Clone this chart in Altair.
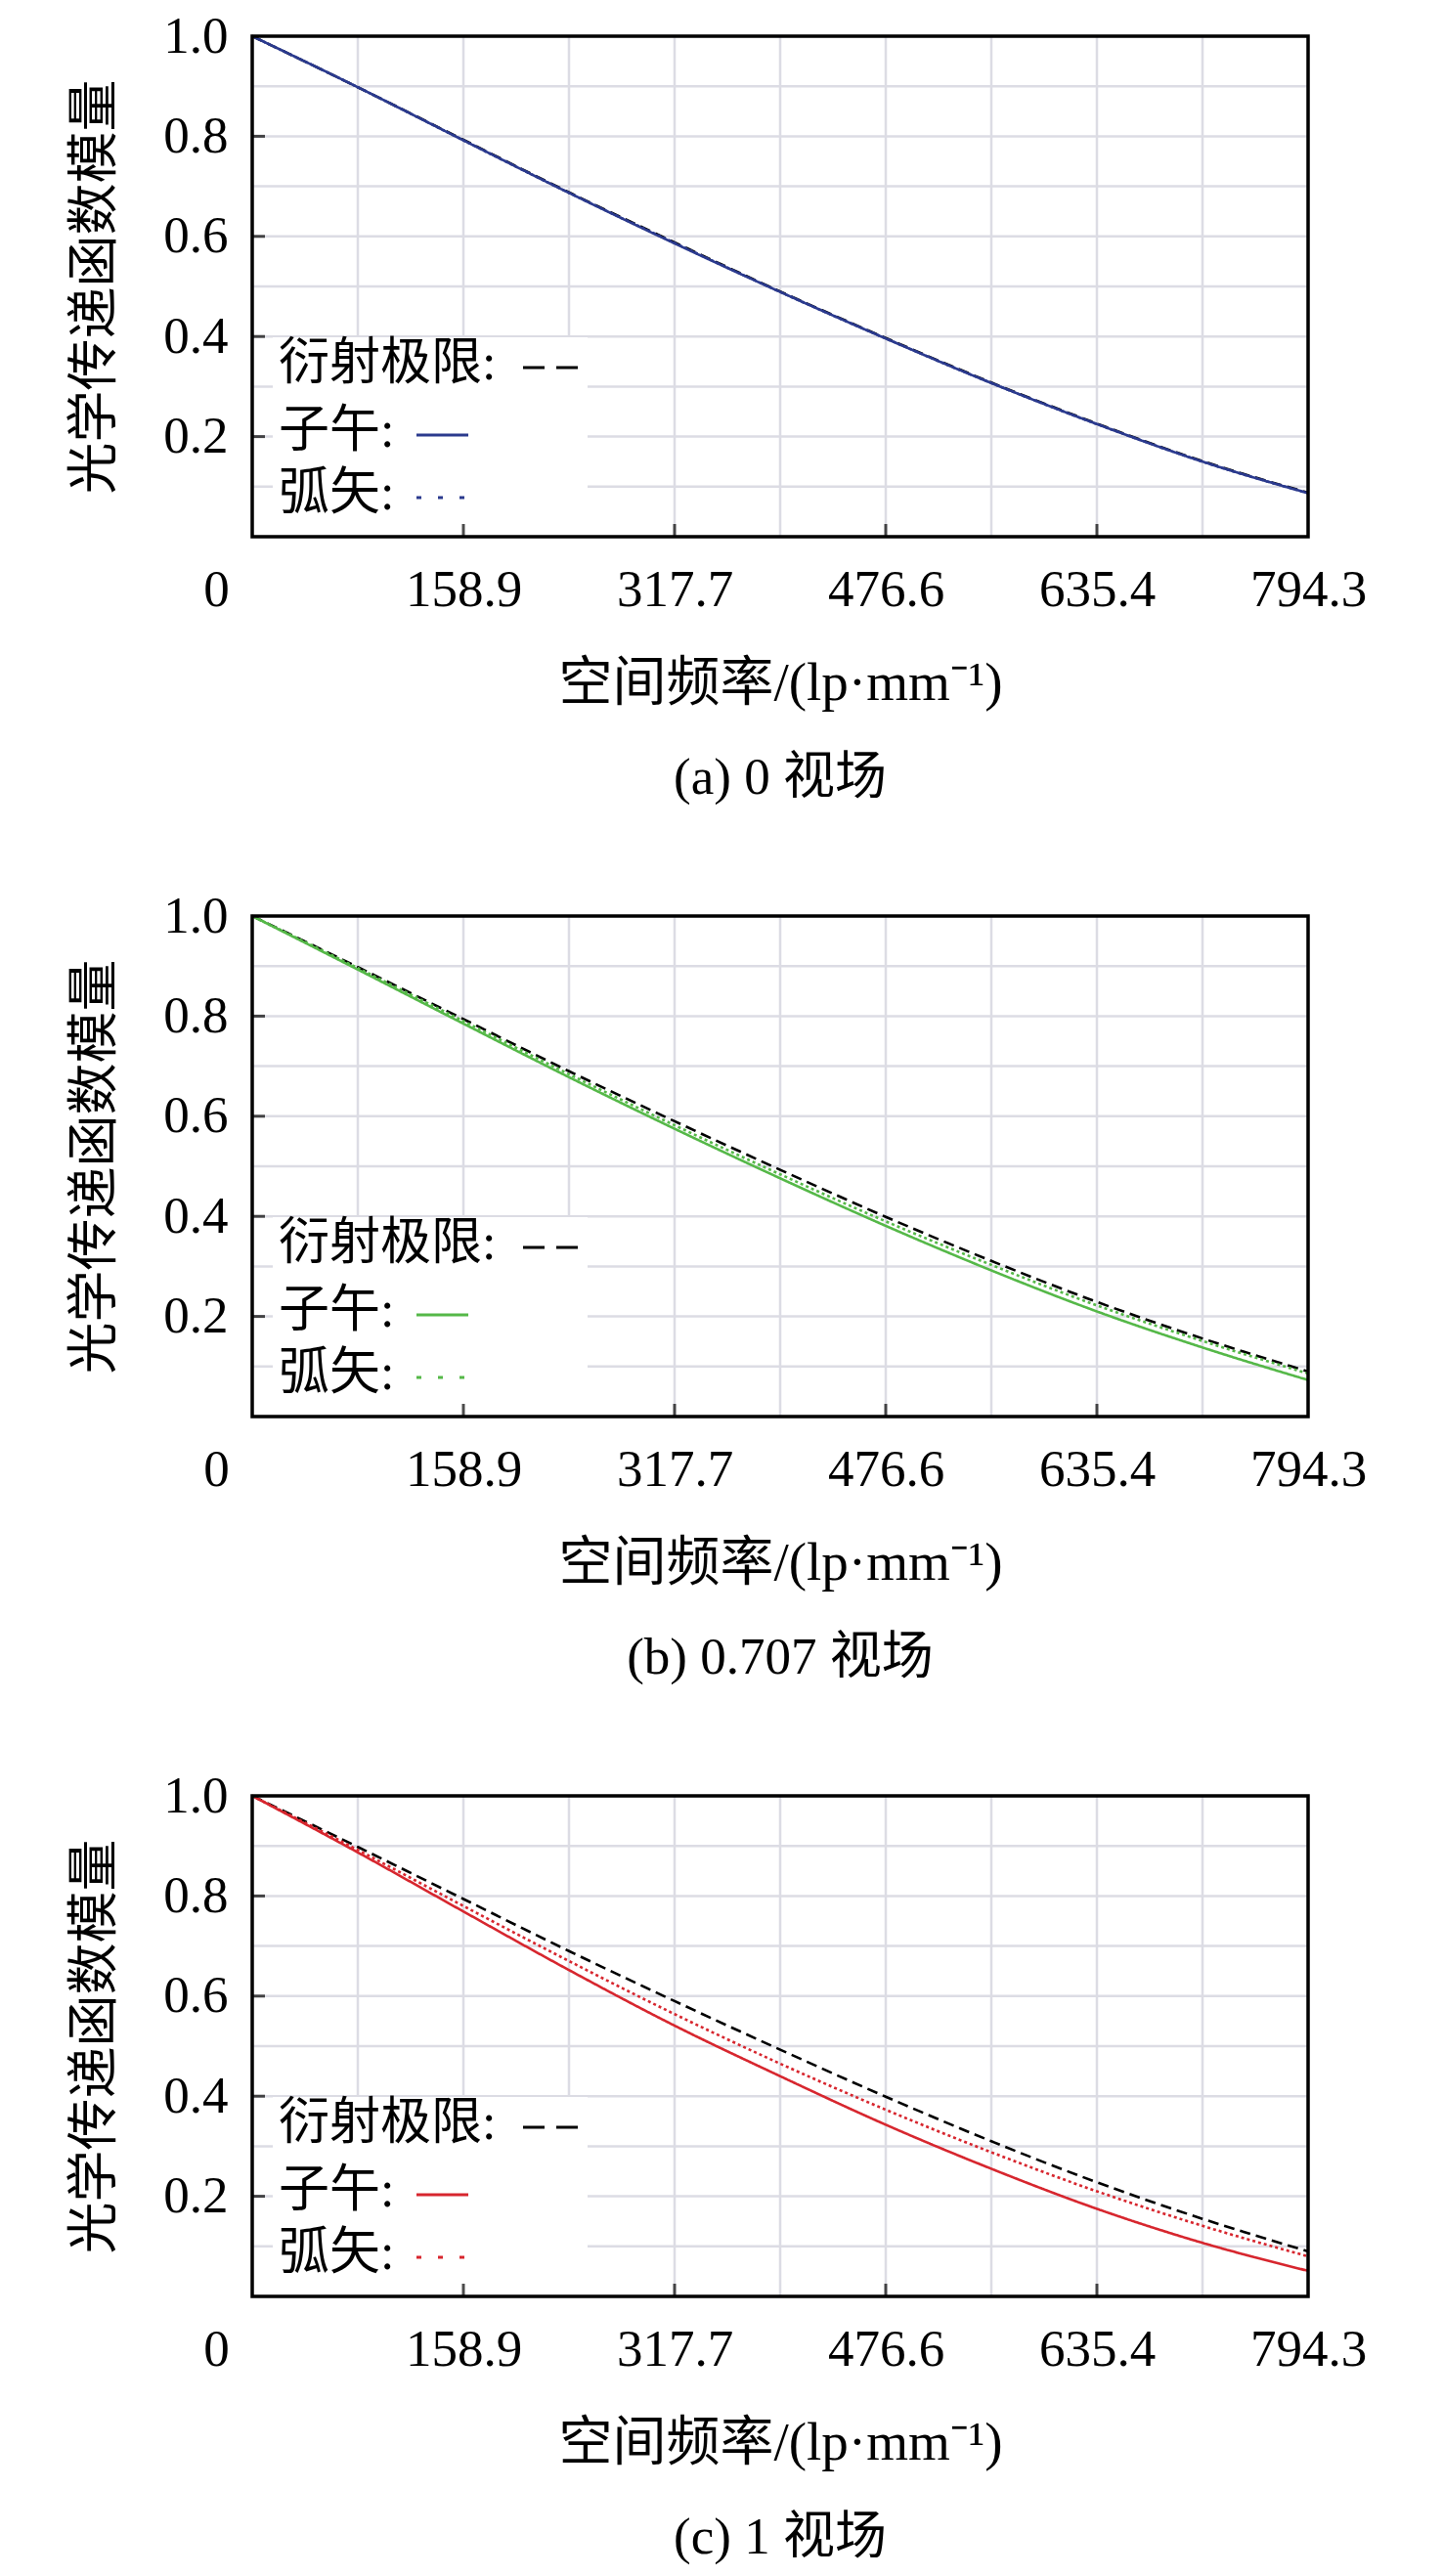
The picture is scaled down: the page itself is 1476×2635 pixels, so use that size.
import altair as alt
import pandas as pd

# ---------------- data ----------------
freq = [0, 79.43, 158.86, 238.29, 317.72, 397.15, 476.58, 556.01, 635.44, 714.87, 794.3]

a_diff = [1.0, 0.898, 0.793, 0.688, 0.588, 0.490, 0.397, 0.308, 0.226, 0.151, 0.088]
a_tan = [1.0, 0.898, 0.792, 0.687, 0.586, 0.489, 0.396, 0.307, 0.225, 0.150, 0.087]
a_sag = [1.0, 0.898, 0.792, 0.687, 0.587, 0.489, 0.396, 0.307, 0.225, 0.150, 0.087]

b_diff = [1.0, 0.898, 0.794, 0.690, 0.590, 0.493, 0.399, 0.311, 0.229, 0.156, 0.090]
b_tan = [1.0, 0.893, 0.785, 0.678, 0.575, 0.476, 0.381, 0.292, 0.210, 0.138, 0.073]
b_sag = [1.0, 0.896, 0.790, 0.684, 0.582, 0.484, 0.390, 0.303, 0.222, 0.151, 0.086]

c_diff = [1.0, 0.898, 0.794, 0.690, 0.590, 0.493, 0.399, 0.310, 0.228, 0.155, 0.090]
c_tan = [1.0, 0.887, 0.769, 0.652, 0.541, 0.440, 0.343, 0.255, 0.175, 0.107, 0.051]
c_sag = [1.0, 0.892, 0.780, 0.670, 0.564, 0.465, 0.373, 0.288, 0.210, 0.141, 0.080]

captions = ["(a) 0 视场", "(b) 0.707 视场", "(c) 1 视场"]
colors = ["#2b3a8e", "#55b848", "#d7262e"]
legend_labels = ["衍射极限:", "子午:", "弧矢:"]

x_label_vals = [0, 158.86, 317.72, 476.58, 635.44, 794.3]
x_labels = ["0", "158.9", "317.7", "476.6", "635.4", "794.3"]
y_label_vals = [0.2, 0.4, 0.6, 0.8, 1.0]
x_grid_vals = [79.43, 158.86, 238.29, 317.72, 397.15, 476.58, 556.01, 635.44, 714.87]
y_grid_vals = [0.1, 0.2, 0.3, 0.4, 0.5, 0.6, 0.7, 0.8, 0.9]
x_tick_vals = [158.86, 317.72, 476.58, 635.44]
y_tick_vals = [0.2, 0.4, 0.6, 0.8]

x_title = "空间频率/(lp·mm⁻¹)"
y_title = "光学传递函数模量"

# ---------------- style ----------------
W, H = 1080, 512
FONT = "Liberation Serif, 'Noto Sans CJK SC', serif"
GRID = "#dcdce4"

label_map = "{" + ", ".join(f"'{v}': '{t}'" for v, t in zip(x_label_vals, x_labels)) + "}"

xenc = alt.X(
    "f:Q",
    scale=alt.Scale(domain=[0, 794.3], nice=False, zero=False),
    axis=alt.Axis(
        values=x_label_vals,
        labelExpr=f"{label_map}[toString(datum.value)]",
        grid=False, ticks=False, domain=False,
        labelFont=FONT, labelFontSize=53, labelColor="black",
        labelPadding=28, labelFlush=False, labelOverlap=False,
        labelOffset={"condition": {"test": "datum.value == 0", "value": -37}, "value": 0},
        title=x_title, titleFont=FONT, titleFontSize=55, titleFontWeight="normal",
        titleColor="black", titlePadding=42,
    ),
)
yenc = alt.Y(
    "m:Q",
    scale=alt.Scale(domain=[0, 1], nice=False, zero=False),
    axis=alt.Axis(
        values=y_label_vals, format=".1f",
        grid=False, ticks=False, domain=False,
        labelFont=FONT, labelFontSize=53, labelColor="black",
        labelPadding=25, labelFlush=False, labelOverlap=False,
        title=y_title, titleFont=FONT, titleFontSize=53, titleFontWeight="normal",
        titleColor="black", titlePadding=42,
    ),
)

one = pd.DataFrame({"k": [0]})


def panel(diff, tan, sag, color, caption):
    layers = []
    layers.append(
        alt.Chart(pd.DataFrame({"f": x_grid_vals})).mark_rule(color=GRID, strokeWidth=2.5).encode(x=xenc)
    )
    layers.append(
        alt.Chart(pd.DataFrame({"m": y_grid_vals})).mark_rule(color=GRID, strokeWidth=2.5).encode(y=yenc)
    )
    # legend box
    layers.append(
        alt.Chart(one).mark_rect(fill="white").encode(
            x=alt.value(21), x2=alt.value(343), y=alt.value(308), y2=alt.value(H)
        )
    )
    # curves
    for vals, dash, col in [(diff, [11, 6], "black"), (tan, [1, 0], color), (sag, [3, 3], color)]:
        layers.append(
            alt.Chart(pd.DataFrame({"f": freq, "m": vals}))
            .mark_line(color=col, strokeWidth=2.6, strokeDash=dash, interpolate="monotone")
            .encode(x=xenc, y=yenc)
        )
    # legend text
    for lab, yy in zip(legend_labels, [335, 404, 468]):
        layers.append(
            alt.Chart(one).mark_text(
                font=FONT, fontSize=52, align="left", baseline="middle", color="black"
            ).encode(x=alt.value(27), y=alt.value(yy), text=alt.value(lab))
        )
    # legend symbols
    for (x1, x2, yy, dash, col) in [
        (277, 334, 339, [22, 12], "black"),
        (168, 221, 408, [1, 0], color),
        (168, 222, 472, [5, 17], color),
    ]:
        layers.append(
            alt.Chart(one).mark_rule(color=col, strokeWidth=3, strokeDash=dash).encode(
                x=alt.value(x1), x2=alt.value(x2), y=alt.value(yy)
            )
        )
    # inward ticks
    layers.append(
        alt.Chart(pd.DataFrame({"f": x_tick_vals}))
        .mark_tick(orient="vertical", size=13, thickness=3, color="black")
        .encode(x=xenc, y=alt.value(H - 6.5))
    )
    layers.append(
        alt.Chart(pd.DataFrame({"m": y_tick_vals}))
        .mark_tick(orient="horizontal", size=13, thickness=3, color="black")
        .encode(y=yenc, x=alt.value(6.5))
    )
    # frame
    layers.append(
        alt.Chart(one).mark_rect(fill="transparent", stroke="black", strokeWidth=3.5).encode(
            x=alt.value(0), x2=alt.value(W), y=alt.value(0), y2=alt.value(H)
        )
    )
    return alt.layer(*layers).properties(
        width=W,
        height=H,
        title=alt.TitleParams(
            caption, orient="bottom", font=FONT, fontSize=53, fontWeight="normal",
            color="black", offset=44,
        ),
    )


chart = (
    alt.vconcat(
        panel(a_diff, a_tan, a_sag, colors[0], captions[0]),
        panel(b_diff, b_tan, b_sag, colors[1], captions[1]),
        panel(c_diff, c_tan, c_sag, colors[2], captions[2]),
        spacing=86,
    )
    .properties(padding={"left": 63, "top": 2, "right": 5, "bottom": 5}, background="white")
    .configure_view(stroke="transparent")
)

chart.save("out.html", embed_options={"renderer": "svg", "actions": False})
